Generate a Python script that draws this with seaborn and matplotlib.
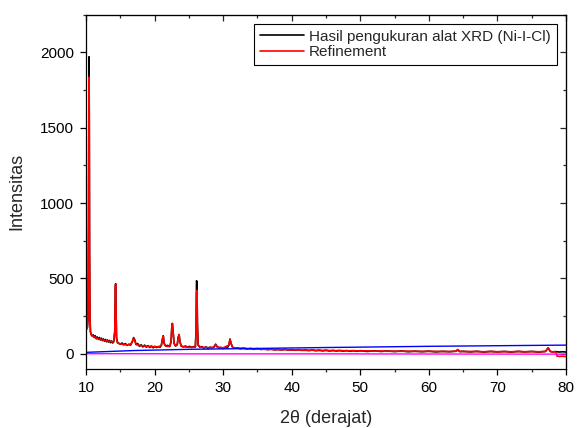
import numpy as np
import pandas as pd
import matplotlib
matplotlib.use("Agg")
import matplotlib.pyplot as plt
from matplotlib.ticker import MultipleLocator, NullFormatter
import seaborn as sns

# XRD measurement (black)
x_meas = [10.10, 10.20, 10.30, 10.38, 10.42, 10.45, 10.48, 10.52, 10.58, 10.65,
          10.75, 10.90, 11.05, 11.20, 11.35, 11.50, 11.65, 11.80, 11.95, 12.10,
          12.25, 12.40, 12.55, 12.70, 12.85, 13.00, 13.15, 13.30, 13.45, 13.60,
          13.75, 13.90, 14.05, 14.20, 14.28, 14.33, 14.38, 14.45, 14.60, 14.80,
          15.00, 15.25, 15.50, 15.75, 16.00, 16.25, 16.50, 16.75, 16.95, 17.10,
          17.30, 17.55, 17.80, 18.05, 18.30, 18.55, 18.80, 19.05, 19.30, 19.55,
          19.80, 20.05, 20.30, 20.55, 20.80, 21.00, 21.15, 21.27, 21.40, 21.60,
          21.90, 22.20, 22.40, 22.52, 22.60, 22.70, 22.85, 23.05, 23.30, 23.45,
          23.58, 23.70, 23.90, 24.20, 24.50, 24.80, 25.10, 25.40, 25.70, 25.95,
          26.05, 26.12, 26.18, 26.25, 26.35, 26.60, 26.90, 27.20, 27.50, 27.80,
          28.10, 28.40, 28.70, 28.90, 29.10, 29.40, 29.70, 30.00, 30.30, 30.60,
          30.85, 31.00, 31.15, 31.40, 31.70, 32.00, 32.50, 33.00, 33.50, 34.00,
          34.50, 35.00, 35.50, 36.00, 36.50, 37.00, 37.50, 38.00, 38.50, 39.00,
          39.50, 40.00, 40.50, 41.00, 41.50, 42.00, 42.50, 43.00, 43.50, 44.00,
          44.50, 45.00, 45.50, 46.00, 46.50, 47.00, 47.50, 48.00, 48.50, 49.00,
          49.50, 50.00, 51.00, 52.00, 53.00, 54.00, 55.00, 56.00, 57.00, 58.00,
          59.00, 60.00, 61.00, 62.00, 63.00, 64.00, 64.20, 64.50, 65.00, 66.00,
          67.00, 68.00, 69.00, 70.00, 71.00, 72.00, 73.00, 74.00, 75.00, 76.00,
          77.00, 77.40, 77.70, 78.00, 78.50, 79.00, 79.50, 80.00]
y_meas = [165, 175, 230, 900, 1700, 1970, 1600, 700, 250, 150,
          128, 118, 126, 108, 120, 100, 112, 96, 108, 92,
          104, 88, 99, 84, 95, 80, 92, 78, 88, 74,
          85, 72, 80, 150, 440, 465, 300, 110, 75, 70,
          64, 72, 60, 68, 56, 64, 58, 80, 108, 95,
          62, 68, 50, 60, 46, 58, 44, 54, 42, 52,
          40, 50, 42, 48, 44, 60, 100, 120, 70, 52,
          56, 48, 80, 180, 202, 150, 70, 52, 60, 110,
          128, 80, 52, 46, 52, 44, 50, 42, 48, 45,
          150, 485, 480, 200, 60, 44, 48, 38, 46, 36,
          44, 40, 46, 64, 50, 38, 42, 36, 40, 38,
          60, 98, 70, 42, 38, 40, 34, 38, 32, 36,
          30, 35, 29, 33, 28, 32, 27, 30, 26, 30,
          25, 28, 24, 28, 23, 26, 22, 26, 21, 25,
          20, 24, 19, 23, 19, 22, 18, 22, 17, 21,
          17, 21, 16, 20, 16, 19, 15, 19, 14, 18,
          14, 18, 13, 17, 14, 18, 28, 15, 17, 13,
          17, 12, 16, 13, 16, 12, 16, 13, 16, 12,
          16, 40, 16, 13, 15, 12, 14, 12]

# Refinement (red)
x_ref = [10.10, 10.20, 10.30, 10.38, 10.42, 10.45, 10.48, 10.52, 10.58, 10.65,
         10.75, 11.00, 11.50, 12.00, 12.50, 13.00, 13.50, 14.00, 14.20, 14.28,
         14.33, 14.38, 14.45, 14.60, 15.00, 15.50, 16.00, 16.50, 16.80, 16.95,
         17.10, 17.30, 17.80, 18.50, 19.50, 20.50, 21.00, 21.15, 21.27, 21.40,
         21.70, 22.20, 22.40, 22.52, 22.60, 22.70, 22.85, 23.10, 23.30, 23.45,
         23.58, 23.70, 23.90, 24.50, 25.50, 25.95, 26.05, 26.12, 26.18, 26.25,
         26.35, 26.70, 27.50, 28.50, 28.90, 29.10, 30.00, 30.85, 31.00, 31.15,
         31.40, 32.00, 33.00, 34.00, 35.00, 36.00, 37.00, 38.00, 39.00, 40.00,
         41.00, 42.00, 43.00, 44.00, 45.00, 46.00, 47.00, 48.00, 49.00, 50.00,
         51.00, 52.00, 53.00, 54.00, 55.00, 56.00, 57.00, 58.00, 59.00, 60.00,
         61.00, 62.00, 63.00, 64.00, 64.20, 64.50, 65.00, 66.00, 67.00, 68.00,
         69.00, 70.00, 71.00, 72.00, 73.00, 74.00, 75.00, 76.00, 77.00, 77.40,
         77.70, 78.00, 78.50, 78.70, 79.00, 79.50, 80.00]
y_ref = [165, 175, 240, 850, 1600, 1835, 1500, 650, 240, 145,
         130, 118, 106, 98, 92, 86, 82, 78, 140, 430,
         460, 290, 105, 72, 66, 62, 60, 62, 85, 105,
         90, 62, 56, 52, 48, 46, 55, 95, 118, 68,
         50, 50, 75, 175, 200, 145, 68, 54, 58, 105,
         128, 78, 50, 46, 44, 46, 140, 410, 420, 190,
         58, 44, 42, 42, 60, 46, 40, 58, 98, 68,
         42, 38, 36, 33, 32, 30, 29, 27, 28, 25,
         26, 23, 24, 22, 23, 21, 22, 20, 21, 19,
         20, 18, 19, 17, 18, 17, 18, 16, 17, 16,
         17, 15, 16, 17, 28, 16, 15, 16, 15, 14,
         16, 14, 15, 14, 16, 14, 15, 14, 16, 40,
         16, 14, 12, -15, -17, -16, -18]

# background curves
x_bg = [10, 17, 25, 35, 45, 60, 80]
y_blue = [10, 22, 30, 36, 42, 50, 58]
y_pink = [1, 1, 0, 0, 0, -1, -2]

sns.set_style("ticks")
plt.rcParams['font.family'] = ['Liberation Sans', 'DejaVu Sans']

fig = plt.figure(figsize=(5.77, 4.28), dpi=100)
ax = fig.add_axes([0.149, 0.138, 0.832, 0.828])

sns.lineplot(x=x_meas, y=y_meas, ax=ax, color='black', lw=1.2,
             estimator=None, label='Hasil pengukuran alat XRD (Ni-I-Cl)')
sns.lineplot(x=x_ref, y=y_ref, ax=ax, color='red', lw=1.2,
             estimator=None, label='Refinement')
sns.lineplot(x=x_bg, y=y_blue, ax=ax, color='blue', lw=1.0, estimator=None)
sns.lineplot(x=x_bg, y=y_pink, ax=ax, color='magenta', lw=1.0, estimator=None)

ax.set_xlim(10, 80)
ax.set_ylim(-100, 2250)
ax.xaxis.set_major_locator(MultipleLocator(10))
ax.xaxis.set_minor_locator(MultipleLocator(5))
ax.yaxis.set_major_locator(MultipleLocator(500))
ax.yaxis.set_minor_locator(MultipleLocator(250))
ax.tick_params(which='major', direction='out', length=4, width=0.9,
               labelsize=11, colors='black', pad=4.5)
ax.tick_params(which='minor', direction='out', length=2.5, width=0.9)

# inward ticks on top and right
top = ax.secondary_xaxis('top')
top.xaxis.set_major_locator(MultipleLocator(10))
top.xaxis.set_minor_locator(MultipleLocator(5))
top.xaxis.set_major_formatter(NullFormatter())
right = ax.secondary_yaxis('right')
right.yaxis.set_major_locator(MultipleLocator(500))
right.yaxis.set_minor_locator(MultipleLocator(250))
right.yaxis.set_major_formatter(NullFormatter())
for sec in (top, right):
    sec.tick_params(which='major', direction='in', length=4, width=0.9)
    sec.tick_params(which='minor', direction='in', length=2.5, width=0.9)

for sp in ax.spines.values():
    sp.set_visible(True)
    sp.set_color('black')
    sp.set_linewidth(0.9)

ax.set_xlabel('2θ (derajat)', fontsize=13, labelpad=11)
ax.set_ylabel('Intensitas', fontsize=13, labelpad=11)

leg = ax.legend(loc='upper right', fontsize=11, frameon=True, fancybox=False,
                edgecolor='black', framealpha=1, handlelength=2.9,
                handletextpad=0.3, borderaxespad=0.6, labelspacing=0.1,
                borderpad=0.4)
leg.get_frame().set_linewidth(0.8)

fig.savefig('out.png', dpi=100)
